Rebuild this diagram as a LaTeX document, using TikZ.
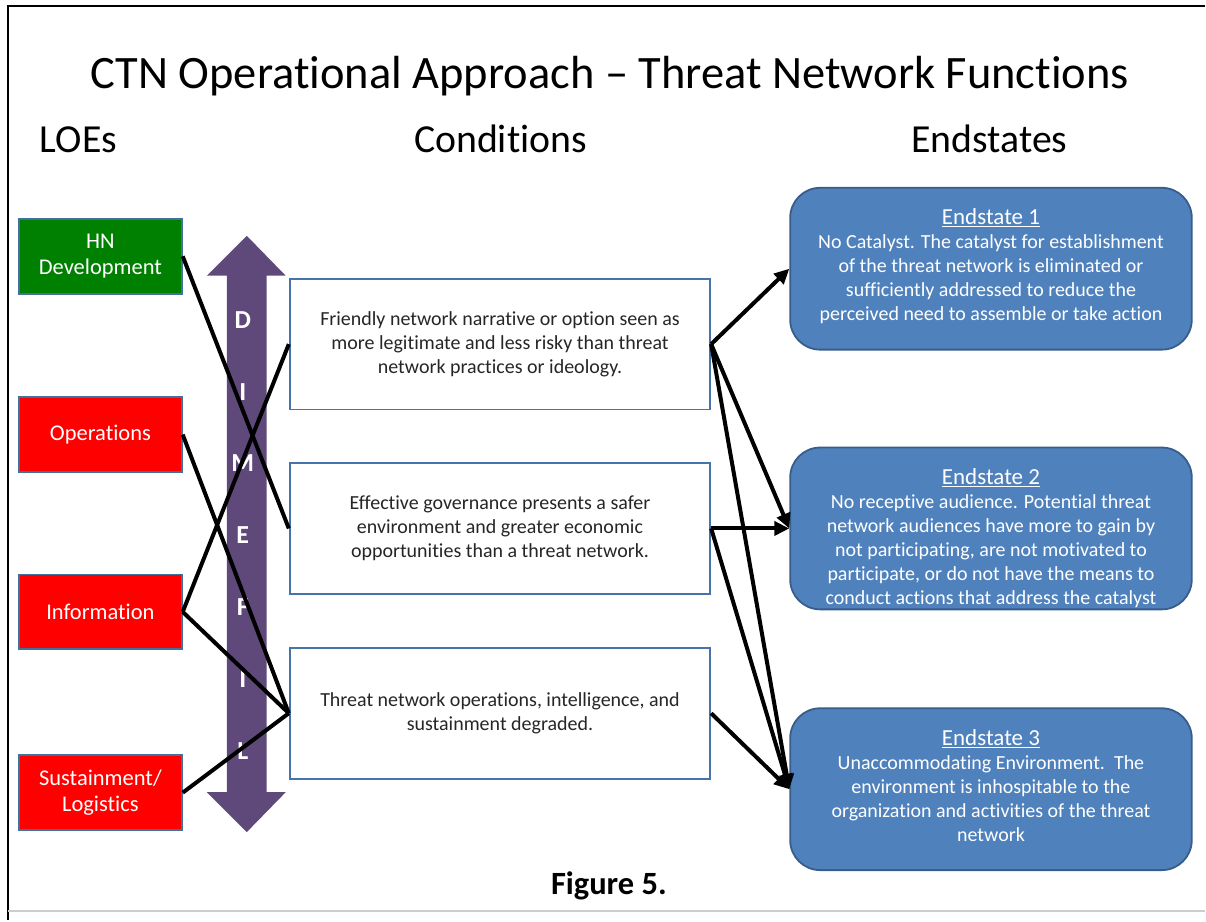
\documentclass[tikz,border=0pt]{standalone}
\usepackage{fontspec}
\setmainfont{Carlito}[Ligatures=NoCommon]
\usetikzlibrary{arrows.meta}
\definecolor{loegreen}{RGB}{0,128,0}
\definecolor{loered}{RGB}{255,0,0}
\definecolor{loeborder}{RGB}{65,113,156}
\definecolor{dimepurple}{RGB}{95,73,122}
\definecolor{condborder}{RGB}{70,115,170}
\definecolor{endfill}{RGB}{79,129,189}
\definecolor{endborder}{RGB}{56,93,138}
\definecolor{rulegray}{RGB}{205,205,205}
\newcommand{\esttitle}[1]{{\fontsize{23}{25}\selectfont\underline{#1}}}
\begin{document}
\begin{tikzpicture}[x=1pt,y=-1pt,
  loebox/.style={draw=loeborder,line width=1.8pt,minimum width=163pt,minimum height=75pt,inner sep=0pt,text=white,align=center,font=\fontsize{22.5}{26}\selectfont},
  condbox/.style={draw=condborder,fill=white,line width=1.8pt,minimum width=421pt,minimum height=131pt,inner sep=0pt,align=center,text=black!85,font=\fontsize{20}{24}\selectfont},
  endbox/.style={draw=endborder,fill=endfill,line width=1.8pt,rounded corners=30pt,minimum width=402pt,minimum height=162pt,inner sep=0pt},
  endtext/.style={text=white,align=center,font=\fontsize{20}{24}\selectfont,inner sep=0pt},
  heading/.style={anchor=base,text=black,font=\fontsize{39.8}{44}\selectfont,inner sep=0pt},
  dimeletter/.style={text=white,font=\fontsize{26}{30}\selectfont\bfseries,inner sep=0pt},
  conn/.style={line width=4pt,black},
  arr/.style={line width=4pt,black,-{Triangle[length=15pt,width=14pt]}}
]
\fill[white] (0,0) rectangle (1206,921);
% frame
\draw[line width=2.2pt,black] (8,921) -- (8,6) -- (1206,6);
\draw[line width=2.5pt,rulegray] (8,912) -- (1206,912);

% titles
\node[heading,font=\fontsize{46.5}{52}\selectfont] (title) at (610.5,89) {CTN Operational Approach – Threat Network Functions};
\node[heading] (hloe) at (78.5,153) {LOEs};
\node[heading] (hcond) at (501,153) {Conditions};
\node[heading] (hend) at (990.5,153) {Endstates};
\node[anchor=base,inner sep=0pt,font=\fontsize{32.5}{36}\selectfont\bfseries] (fig) at (609.5,895) {Figure 5.};

% DIMEFIL arrow
\fill[dimepurple] (207,276) -- (247,236) -- (286,276) -- (267,276) -- (267,793) -- (286,793) -- (247,833) -- (207,793) -- (227,793) -- (227,276) -- cycle;
\foreach \ch/\yy/\nm in {D/320/l1, I/392/l2, M/464/l3, E/536/l4, F/608/l5, I/680/l6, L/752/l7}
  \node[dimeletter] (\nm) at (243,\yy) {\ch};

% LOE boxes
\node[loebox,fill=loegreen] (hn) at (100.5,256.5) {HN\\Development};
\node[loebox,fill=loered] (ops) at (100.5,435) {Operations};
\node[loebox,fill=loered] (info) at (100.5,612.5) {Information};
\node[loebox,fill=loered] (sust) at (100.5,793.5) {Sustainment/\\Logistics};

% condition boxes
\node[condbox] (c1) at (500.5,344.5) {Friendly network narrative or option seen as\\more legitimate and less risky than threat\\network practices or ideology.};
\node[condbox] (c2) at (500.5,529) {Effective governance presents a safer\\environment and greater economic\\opportunities than a threat network.};
\node[condbox] (c3) at (500.5,714) {Threat network operations, intelligence, and\\sustainment degraded.};

% endstate boxes
\node[endbox] (e1) at (992,269) {};
\node[endbox] (e2) at (992,529) {};
\node[endbox] (e3) at (992,790) {};
\node[endtext] (t1) at (992,266.5) {\esttitle{Endstate 1}\\No Catalyst. The catalyst for establishment\\of the threat network is eliminated or\\sufficiently addressed to reduce the\\perceived need to assemble or take action};
\node[endtext] (t2) at (992,539) {\esttitle{Endstate 2}\\No receptive audience. Potential threat\\network audiences have more to gain by\\not participating, are not motivated to\\participate, or do not have the means to\\conduct actions that address the catalyst};
\node[endtext] (t3) at (992,786.5) {\esttitle{Endstate 3}\\Unaccommodating Environment.\ \ The\\environment is inhospitable to the\\organization and activities of the threat\\network};

% LOE -> conditions
\draw[conn] (hn.east) -- (c2.west);
\draw[conn] (c1.west) -- (info.east);
\draw[conn] (ops.east) -- (c3.west);
\draw[conn] (info.east) -- (c3.west);
\draw[conn] (sust.east) -- (c3.west);

% conditions -> endstates
\draw[arr] (c1.east) -- (e1.west);
\draw[arr] (c1.east) -- (e2.west);
\draw[arr] (c1.east) -- (e3.west);
\draw[arr] (c2.east) -- (e2.west);
\draw[arr] (c2.east) -- (e3.west);
\draw[arr] (c3.east) -- (e3.west);

\useasboundingbox (0,0) rectangle (1206,921);
\end{tikzpicture}
\end{document}
